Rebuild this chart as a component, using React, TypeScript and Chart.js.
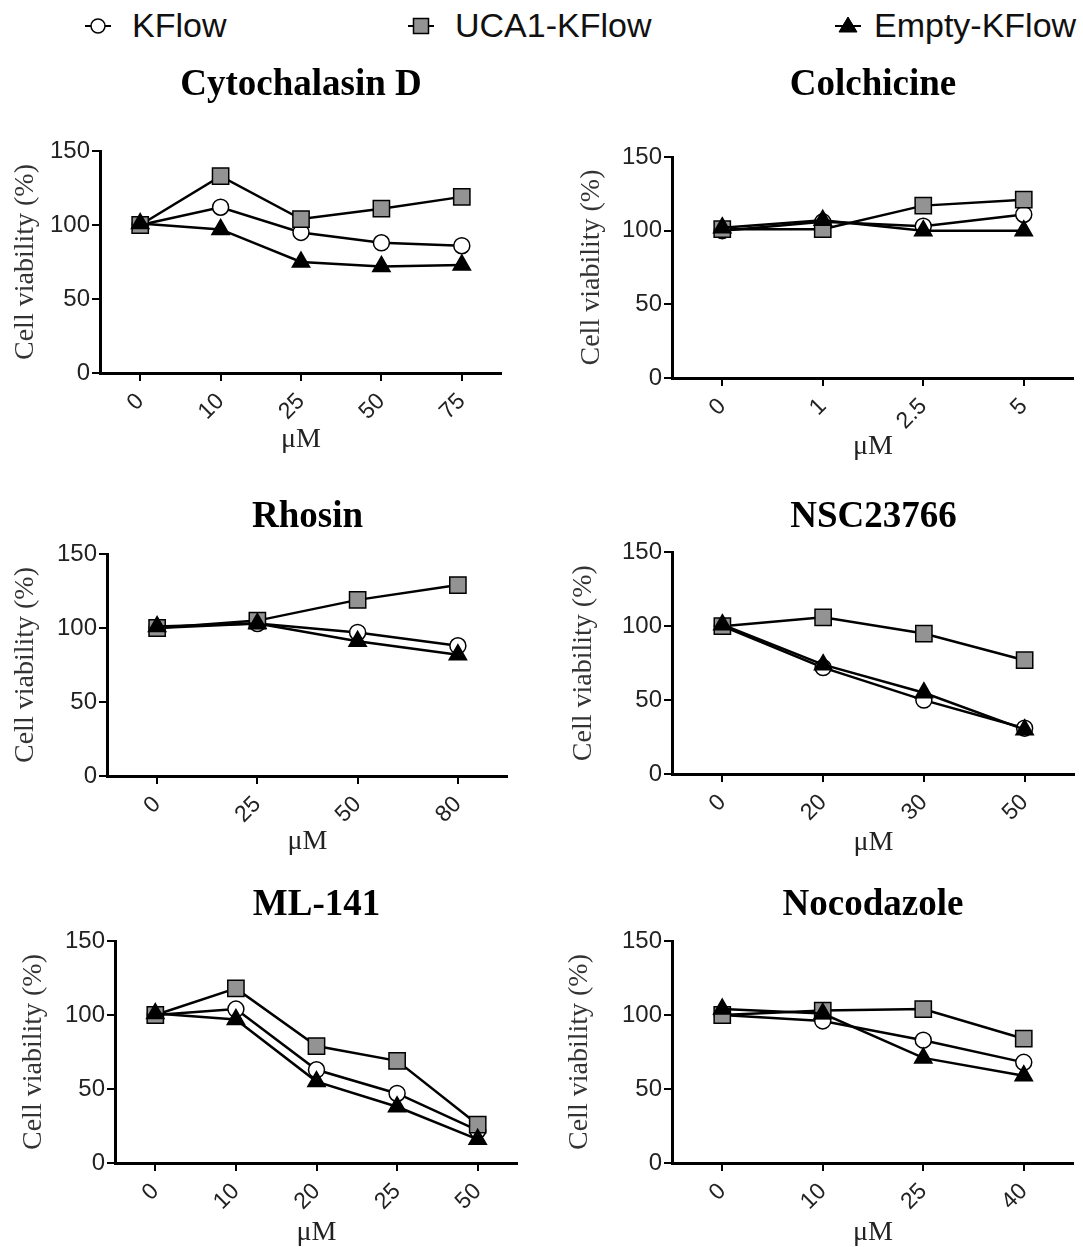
import React, { useEffect, useRef } from 'react';
import { Chart, registerables } from 'chart.js';

Chart.register(...registerables);

// ---------- data ----------
const seriesNames = ['KFlow', 'UCA1-KFlow', 'Empty-KFlow'];

const cytoDoses = ['0', '10', '25', '50', '75'];
const cytoKFlow = [100, 112, 95, 88, 86];
const cytoUCA1 = [100, 133, 104, 111, 119];
const cytoEmpty = [101, 97, 75, 72, 73];

const colchDoses = ['0', '1', '2.5', '5'];
const colchKFlow = [100, 106, 103, 111];
const colchUCA1 = [101, 101, 117, 121];
const colchEmpty = [102, 107, 100, 100];

const rhosinDoses = ['0', '25', '50', '80'];
const rhosinKFlow = [100, 103, 97, 88];
const rhosinUCA1 = [100, 105, 119, 129];
const rhosinEmpty = [101, 103, 91, 82];

const nscDoses = ['0', '20', '30', '50'];
const nscKFlow = [100, 72, 50, 31];
const nscUCA1 = [100, 106, 95, 77];
const nscEmpty = [101, 74, 55, 30];

const mlDoses = ['0', '10', '20', '25', '50'];
const mlKFlow = [100, 104, 63, 47, 22];
const mlUCA1 = [100, 118, 79, 69, 26];
const mlEmpty = [101, 97, 55, 38, 16];

const nocoDoses = ['0', '10', '25', '40'];
const nocoKFlow = [100, 96, 83, 68];
const nocoUCA1 = [100, 103, 104, 84];
const nocoEmpty = [104, 101, 71, 59];

const yTicks = [0, 50, 100, 150];
const yAxisLabel = 'Cell viability (%)';
const xAxisLabel = 'μM';

const panelData = [
  { title: 'Cytochalasin D', doses: cytoDoses, values: [cytoKFlow, cytoUCA1, cytoEmpty] },
  { title: 'Colchicine', doses: colchDoses, values: [colchKFlow, colchUCA1, colchEmpty] },
  { title: 'Rhosin', doses: rhosinDoses, values: [rhosinKFlow, rhosinUCA1, rhosinEmpty] },
  { title: 'NSC23766', doses: nscDoses, values: [nscKFlow, nscUCA1, nscEmpty] },
  { title: 'ML-141', doses: mlDoses, values: [mlKFlow, mlUCA1, mlEmpty] },
  { title: 'Nocodazole', doses: nocoDoses, values: [nocoKFlow, nocoUCA1, nocoEmpty] },
];

// ---------- layout / style ----------
type Layout = {
  left: number; top: number; width: number; height: number;
  yW: number; xH: number; tPt: number; tPb: number; yTp: number; xPb: number;
};

const TITLE_SIZE = 37;
const TITLE_LH = TITLE_SIZE * 1.2;

const layouts: Layout[] = [
  { left: 0, top: 60, width: 502, height: 405, yW: 100, xH: 92, tPt: 3, tPb: 91 - TITLE_LH - 3, yTp: 9, xPb: 11 },
  { left: 560, top: 60, width: 514, height: 412, yW: 112, xH: 94, tPt: 3, tPb: 97 - TITLE_LH - 3, yTp: 14.7, xPb: 11 },
  { left: 0, top: 492, width: 508, height: 378, yW: 107, xH: 94, tPt: 3, tPb: 62 - TITLE_LH - 3, yTp: 9, xPb: 14 },
  { left: 560, top: 492, width: 515, height: 378, yW: 112, xH: 96, tPt: 3, tPb: 60.3 - TITLE_LH - 3, yTp: 6.5, xPb: 13 },
  { left: 0, top: 880, width: 518, height: 367, yW: 115, xH: 84, tPt: 3, tPb: 61 - TITLE_LH - 3, yTp: 16.5, xPb: 0 },
  { left: 560, top: 880, width: 514, height: 367, yW: 112, xH: 84, tPt: 3, tPb: 61 - TITLE_LH - 3, yTp: 2.5, xPb: 0 },
];

const seriesStyles = [
  { pointStyle: 'circle', radius: 8, fill: '#ffffff', order: 2 },
  { pointStyle: 'rect', radius: 11.5, fill: '#939393', order: 1 },
  { pointStyle: 'triangle', radius: 10, fill: '#000000', order: 0 },
];

const SANS = '"Liberation Sans", Arial, sans-serif';
const SERIF = '"Liberation Serif", "Times New Roman", serif';

function Panel({ index }: { index: number }) {
  const ref = useRef<HTMLCanvasElement | null>(null);
  const d = panelData[index];
  const L = layouts[index];

  useEffect(() => {
    if (!ref.current) return;
    const chart = new Chart(ref.current, {
      type: 'line',
      data: {
        labels: d.doses,
        datasets: d.values.map((vals, i) => ({
          label: seriesNames[i],
          data: vals,
          borderColor: '#000',
          borderWidth: 2.5,
          tension: 0,
          fill: false,
          pointStyle: seriesStyles[i].pointStyle as any,
          pointRadius: seriesStyles[i].radius,
          pointBackgroundColor: seriesStyles[i].fill,
          pointBorderColor: '#000',
          pointBorderWidth: 1.5,
          order: seriesStyles[i].order,
          clip: false as any,
        })),
      },
      options: {
        responsive: false,
        animation: false,
        devicePixelRatio: 1,
        layout: { padding: 0, autoPadding: false },
        plugins: {
          legend: { display: false },
          tooltip: { enabled: false },
          title: {
            display: true,
            text: d.title,
            fullSize: false,
            color: '#000',
            font: { family: SERIF, size: TITLE_SIZE, weight: 'bold', lineHeight: 1.2 },
            padding: { top: L.tPt, bottom: L.tPb },
          },
        },
        scales: {
          x: {
            type: 'category',
            offset: true,
            grid: {
              display: true,
              drawOnChartArea: false,
              drawTicks: true,
              tickLength: 8,
              color: '#000',
              lineWidth: 2,
            },
            border: { display: true, color: '#000', width: 3 },
            ticks: {
              minRotation: 45,
              maxRotation: 45,
              autoSkip: false,
              color: '#222',
              padding: 7,
              font: { family: SANS, size: 23 },
            },
            title: {
              display: true,
              text: xAxisLabel,
              color: '#222',
              font: { family: SERIF, size: 28, lineHeight: 1 },
              padding: { top: 0, bottom: L.xPb },
            },
            afterFit: (s: any) => {
              s.height = L.xH;
              s.paddingLeft = 0;
              s.paddingRight = 0;
            },
          },
          y: {
            min: yTicks[0],
            max: yTicks[yTicks.length - 1],
            afterBuildTicks: (s: any) => { s.ticks = yTicks.map((v) => ({ value: v })); },
            grid: {
              display: true,
              drawOnChartArea: false,
              drawTicks: true,
              tickLength: 8,
              color: '#000',
              lineWidth: 2,
            },
            border: { display: true, color: '#000', width: 3 },
            ticks: {
              color: '#222',
              padding: 2,
              font: { family: SANS, size: 24 },
            },
            title: {
              display: true,
              text: yAxisLabel,
              color: '#333',
              font: { family: SERIF, size: 28, lineHeight: 1.2 },
              padding: { top: L.yTp, bottom: 0 },
            },
            afterFit: (s: any) => { s.width = L.yW; },
          },
        },
      } as any,
    });
    return () => chart.destroy();
  }, [index]);

  return (
    <canvas
      ref={ref}
      width={L.width}
      height={L.height}
      style={{ position: 'absolute', left: L.left, top: L.top, width: L.width, height: L.height }}
    />
  );
}

function LegendIcon({ kind }: { kind: number }) {
  return (
    <svg width={30} height={30} style={{ position: 'absolute', left: 0, top: 0 }}>
      <line x1={2} y1={15} x2={28} y2={15} stroke="#000" strokeWidth={2} />
      {kind === 0 && <circle cx={15} cy={15} r={7} fill="#fff" stroke="#000" strokeWidth={1.5} />}
      {kind === 1 && <rect x={7.5} y={7.5} width={15} height={15} fill="#939393" stroke="#000" strokeWidth={1.5} />}
      {kind === 2 && <polygon points="15,6 24,21 6,21" fill="#000" stroke="#000" strokeWidth={1} />}
    </svg>
  );
}

const legendPos = [
  { icon: 83, text: 132 },
  { icon: 406, text: 455 },
  { icon: 833, text: 874 },
];

export default function App() {
  return (
    <div style={{ position: 'absolute', left: 0, top: 0, width: 1083, height: 1247, background: '#fff', overflow: 'hidden' }}>
      {seriesNames.map((name, i) => (
        <React.Fragment key={name}>
          <div style={{ position: 'absolute', left: legendPos[i].icon, top: 11, width: 30, height: 30 }}>
            <LegendIcon kind={i} />
          </div>
          <div
            style={{
              position: 'absolute',
              left: legendPos[i].text,
              top: 8,
              font: `34px ${SANS}`,
              lineHeight: '34px',
              color: '#111',
              whiteSpace: 'nowrap',
            }}
          >
            {name}
          </div>
        </React.Fragment>
      ))}
      {panelData.map((_, i) => (
        <Panel key={i} index={i} />
      ))}
    </div>
  );
}
